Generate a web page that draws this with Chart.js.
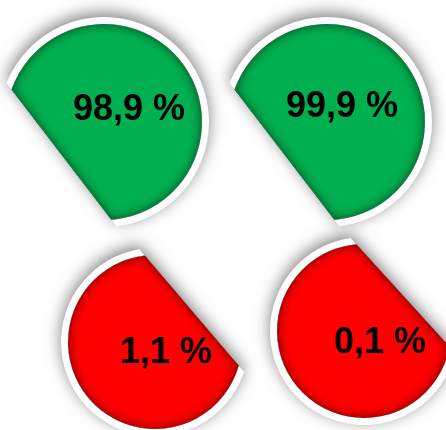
<!DOCTYPE html>
<html>
<head>
<meta charset="utf-8">
<script src="https://cdn.jsdelivr.net/npm/chart.js@4.4.0/dist/chart.umd.min.js"></script>
<style>
  html, body { margin: 0; padding: 0; background: #fff; }
  body { width: 446px; height: 430px; position: relative; overflow: hidden; }
  .pie { position: absolute; width: 260px; height: 260px; }
</style>
</head>
<body>
<div class="pie"><canvas></canvas></div>
<div class="pie"><canvas></canvas></div>
<div class="pie"><canvas></canvas></div>
<div class="pie"><canvas></canvas></div>
<script>
// share of successful / failed items, per column
const okShare = [98.9, 99.9];
const errShare = [1.1, 0.1];

const GREEN = '#00b050';
const RED = '#ff0000';
const BOX = 260;

// disc layout: centre, radius, cut line (normal angle in deg, depth as fraction of radius), label offset
const panels = [
  { value: okShare[0], color: GREEN, cx: 104, cy: 122, r: 98, cut: 142.5, depth: 0.547, lx: 25, ly: -2 },
  { value: okShare[1], color: GREEN, cx: 327, cy: 122, r: 98, cut: 142.5, depth: 0.547, lx: 15, ly: -5 },
  { value: errShare[0], color: RED, cx: 155, cy: 342, r: 87, cut: -40.5, depth: 0.555, lx: 11, ly: 21 },
  { value: errShare[1], color: RED, cx: 364, cy: 331, r: 87, cut: -42.3, depth: 0.605, lx: 16, ly: 22 },
];

function segmentPath(ctx, x, y, R, ang, d, fresh = true) {
  const a = Math.acos(Math.min(d / R, 1));
  if (fresh) ctx.beginPath();
  ctx.moveTo(x + R * Math.cos(ang + a), y + R * Math.sin(ang + a));
  ctx.arc(x, y, R, ang + a, ang - a + 2 * Math.PI);
  ctx.closePath();
}

function fmt(v) {
  return v.toFixed(1).replace('.', ',') + ' %';
}

// cuts the disc along a chord, adds white rim, drop shadow, inner shading and the value label
const cutDisc = {
  id: 'cutDisc',
  beforeDatasetDraw(chart, args, opts) {
    const arc = chart.getDatasetMeta(0).data[0];
    const ctx = chart.ctx;
    const ang = opts.cut * Math.PI / 180;
    const d = opts.depth * arc.outerRadius;
    ctx.save();
    ctx.save();
    ctx.shadowColor = 'rgba(0,0,0,0.5)';
    ctx.shadowBlur = 16;
    ctx.shadowOffsetY = -4;
    segmentPath(ctx, arc.x, arc.y, arc.outerRadius + 7, ang, d);
    ctx.fillStyle = '#fff';
    ctx.fill();
    ctx.restore();
    segmentPath(ctx, arc.x, arc.y, arc.outerRadius, ang, d);
    ctx.clip();
  },
  afterDatasetDraw(chart, args, opts) {
    const arc = chart.getDatasetMeta(0).data[0];
    const ctx = chart.ctx;
    const ang = opts.cut * Math.PI / 180;
    const d = opts.depth * arc.outerRadius;
    ctx.save();
    ctx.shadowColor = 'rgba(0,0,0,0.6)';
    ctx.shadowBlur = 12;
    ctx.beginPath();
    ctx.rect(arc.x - 1000, arc.y - 1000, 2000, 2000);
    segmentPath(ctx, arc.x, arc.y, arc.outerRadius, ang, d, false);
    ctx.fillStyle = '#000';
    ctx.fill('evenodd');
    ctx.restore();
    ctx.restore();

    const value = chart.data.datasets[0].data[0];
    ctx.save();
    ctx.font = 'bold 36px "Liberation Sans", Arial, sans-serif';
    ctx.fillStyle = '#000';
    ctx.textAlign = 'center';
    ctx.textBaseline = 'alphabetic';
    ctx.fillText(fmt(value), arc.x + opts.lx, arc.y + opts.ly);
    ctx.restore();
  }
};

const boxes = document.querySelectorAll('.pie');
panels.forEach((p, i) => {
  const box = boxes[i];
  box.style.left = (p.cx - BOX / 2) + 'px';
  box.style.top = (p.cy - BOX / 2) + 'px';
  new Chart(box.querySelector('canvas'), {
    type: 'pie',
    data: {
      labels: [''],
      datasets: [{ data: [p.value], backgroundColor: p.color, borderWidth: 0 }]
    },
    options: {
      responsive: true,
      maintainAspectRatio: false,
      animation: false,
      events: [],
      radius: p.r,
      layout: { padding: 0 },
      plugins: {
        legend: { display: false },
        tooltip: { enabled: false },
        cutDisc: { cut: p.cut, depth: p.depth, lx: p.lx, ly: p.ly }
      }
    },
    plugins: [cutDisc]
  });
});
</script>
</body>
</html>
